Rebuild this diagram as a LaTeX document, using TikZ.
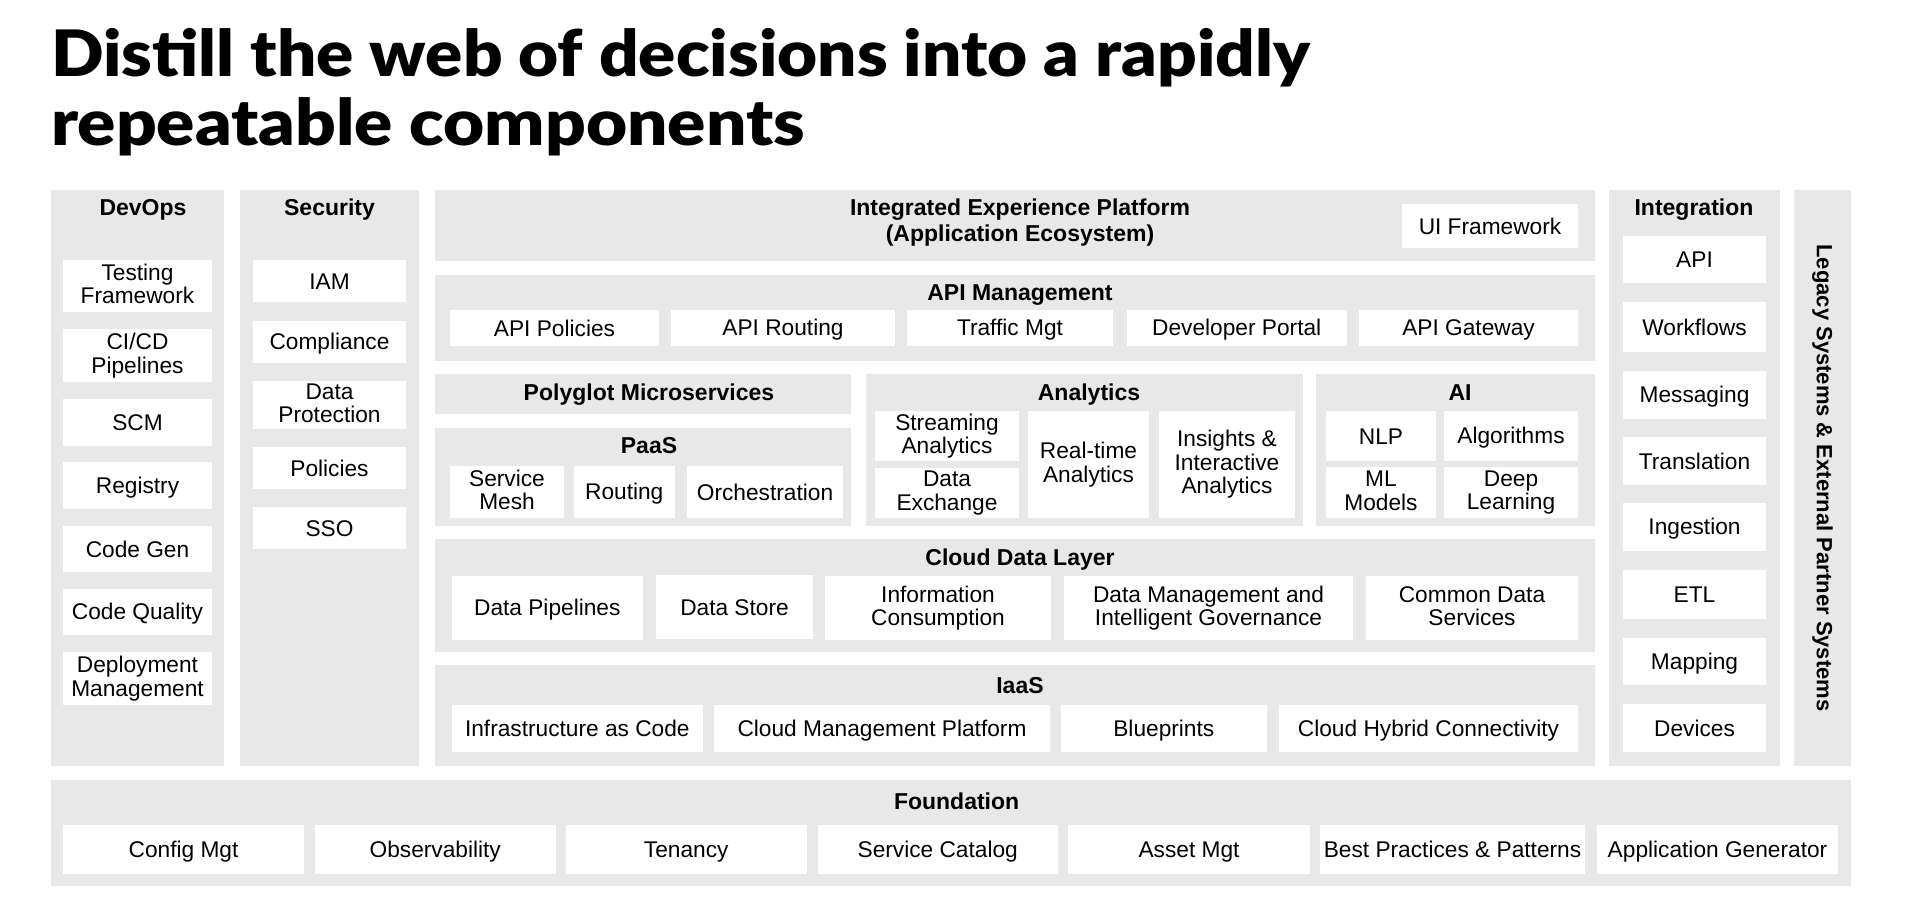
\documentclass[tikz,border=0pt]{standalone}
\usepackage{fontspec}
\setmainfont{Liberation Sans}
\IfFontExistsTF{Lato Black}{\newfontfamily\titlefont{Lato Black}}{\newfontfamily\titlefontx{Lato}\def\titlefont{\titlefontx\bfseries}}
\definecolor{panel}{RGB}{232,232,232}
\tikzset{
  panelbox/.style={fill=panel, draw=none, inner sep=0pt},
  wbox/.style={fill=white, draw=none, inner sep=0pt, align=center, text=black, font=\fontsize{22.7}{23.5}\selectfont,
    execute at begin node={\rule{0pt}{20pt}}, execute at end node={\rule[-4pt]{0pt}{4pt}}},
  head/.style={font=\fontsize{23}{26.7}\selectfont\bfseries, anchor=base, inner sep=0pt, align=center, text=black},
  titletext/.style={anchor=base west, inner sep=0pt, font=\fontsize{64}{69}\titlefont},
}
\newcommand\pnl[5]{\node[panelbox, minimum width={#4-#2}, minimum height={#5-#3}] (#1) at ({(#2+#4)/2},{(#3+#5)/2}) {};}
\newcommand\bx[6]{\node[wbox, minimum width={#4-#2}, minimum height={#5-#3}] (#1) at ({(#2+#4)/2},{(#3+#5)/2}) {#6};}
\begin{document}
\begin{tikzpicture}[x=1pt,y=-1pt]
\useasboundingbox[fill=white] (0,0) rectangle (1906,897);
% title
\node[titletext] (t1) at (51,76) {\scalebox{1.08}[1]{Distill the web of decisions into a rapidly}};
\node[titletext] (t2) at (51,145) {\scalebox{1.11}[1]{repeatable components}};
% panels
\pnl{devops}{50.5}{190}{224}{766}
\pnl{security}{240}{190}{419}{766}
\pnl{iep}{435}{190}{1595}{261}
\pnl{apim}{435}{275}{1595}{361}
\pnl{poly}{435}{374}{851}{414}
\pnl{paas}{435}{428}{851}{526}
\pnl{analytics}{865.5}{374}{1303}{526}
\pnl{ai}{1316}{374}{1595}{526}
\pnl{cdl}{435}{539}{1595}{652}
\pnl{iaas}{435}{665}{1595}{766}
\pnl{integ}{1609}{190}{1780}{766}
\pnl{found}{50.5}{780}{1851}{886}
\node[panelbox, minimum width=576, minimum height=57, rotate=-90, font=\fontsize{22}{24}\selectfont\bfseries] (legacy) at (1822.5,478) {Legacy Systems \& External Partner Systems};
% headings
\node[head] (hdev) at (143,215) {DevOps};
\node[head] (hsec) at (329.5,215) {Security};
\node[head] (hint) at (1694,215) {Integration};
\node[head] (hiep) at (1020,241.7) {Integrated Experience Platform\\(Application Ecosystem)};
\node[head] (hapim) at (1020,300.7) {API Management};
\node[head] (hpoly) at (649,400.7) {Polyglot Microservices};
\node[head] (hana) at (1089,400.7) {Analytics};
\node[head] (hai) at (1460,400.7) {AI};
\node[head] (hpaas) at (649,453) {PaaS};
\node[head] (hcdl) at (1020,565) {Cloud Data Layer};
\node[head] (hiaas) at (1020,693) {IaaS};
\node[head] (hfound) at (956.6,809) {Foundation};
% DevOps
\bx{testing}{63}{260}{212}{312}{Testing\\Framework}
\bx{cicd}{63}{329}{212}{382}{CI/CD\\Pipelines}
\bx{scm}{63}{399}{212}{446}{SCM}
\bx{registry}{63}{462}{212}{509}{Registry}
\bx{codegen}{63}{526}{212}{572}{Code Gen}
\bx{codeq}{63}{589}{212}{635}{Code Quality}
\bx{deploy}{63}{652}{212}{705}{Deployment\\Management}
% Security
\bx{iam}{253}{260}{406}{302}{IAM}
\bx{compl}{253}{321}{406}{363}{Compliance}
\bx{dataprot}{253}{381}{406}{429}{Data\\Protection}
\bx{policies}{253}{447}{406}{489}{Policies}
\bx{sso}{253}{507}{406}{549}{SSO}
% Integration
\bx{iapi}{1623}{236}{1766}{283}{API}
\bx{workflows}{1623}{302}{1766}{352}{Workflows}
\bx{messaging}{1623}{371}{1766}{419}{Messaging}
\bx{translation}{1623}{437}{1766}{485}{Translation}
\bx{ingestion}{1623}{503}{1766}{551}{Ingestion}
\bx{etl}{1623}{570}{1766}{619}{ETL}
\bx{mapping}{1623}{638}{1766}{685}{Mapping}
\bx{devices}{1623}{704}{1766}{752}{Devices}
% IEP
\bx{uifw}{1402}{204}{1578}{248}{UI Framework}
% API management
\bx{apipol}{450}{310}{659}{346}{API Policies}
\bx{apirout}{671}{310}{895}{346}{API Routing}
\bx{traffic}{907}{310}{1113}{346}{Traffic Mgt}
\bx{devportal}{1126.5}{310}{1347}{346}{Developer Portal}
\bx{apigw}{1359}{310}{1578}{346}{API Gateway}
% PaaS
\bx{mesh}{450}{466}{564}{518}{Service\\Mesh}
\bx{routing}{574}{466}{674.5}{518}{Routing}
\bx{orch}{687}{466}{843}{518}{Orchestration}
% Analytics
\bx{stream}{875}{411}{1019}{461}{Streaming\\Analytics}
\bx{dataex}{875}{468}{1019}{518}{Data\\Exchange}
\bx{realtime}{1028}{411}{1149}{518}{Real-time\\Analytics}
\bx{insights}{1159}{411}{1295}{518}{Insights \&\\Interactive\\Analytics}
% AI
\bx{nlp}{1326}{411}{1436}{461}{NLP}
\bx{algo}{1444}{411}{1578}{461}{Algorithms}
\bx{ml}{1326}{467}{1436}{518}{ML\\Models}
\bx{deep}{1444}{467}{1578}{518}{Deep\\Learning}
% Cloud data layer
\bx{datapipe}{451.6}{576}{643}{640}{Data Pipelines}
\bx{datastore}{656}{575}{813}{639}{Data Store}
\bx{infocons}{825}{576}{1051}{640}{Information\\Consumption}
\bx{datamgmt}{1064}{576}{1353}{640}{Data Management and\\Intelligent Governance}
\bx{commondata}{1366}{576}{1578}{640}{Common Data\\Services}
% IaaS
\bx{iac}{451.6}{705}{703}{752}{Infrastructure as Code}
\bx{cmp}{714}{705}{1050}{752}{Cloud Management Platform}
\bx{blueprints}{1061}{705}{1266.6}{752}{Blueprints}
\bx{hybrid}{1279}{705}{1578}{752}{Cloud Hybrid Connectivity}
% Foundation
\bx{config}{63}{825}{304}{874}{Config Mgt}
\bx{observ}{315}{825}{555.5}{874}{Observability}
\bx{tenancy}{566}{825}{806.5}{874}{Tenancy}
\bx{servcat}{818}{825}{1057.5}{874}{Service Catalog}
\bx{assetmgt}{1068}{825}{1310}{874}{Asset Mgt}
\bx{bestpr}{1320}{825}{1585}{874}{Best Practices \& Patterns}
\bx{appgen}{1597}{825}{1838}{874}{Application Generator}
\end{tikzpicture}
\end{document}
